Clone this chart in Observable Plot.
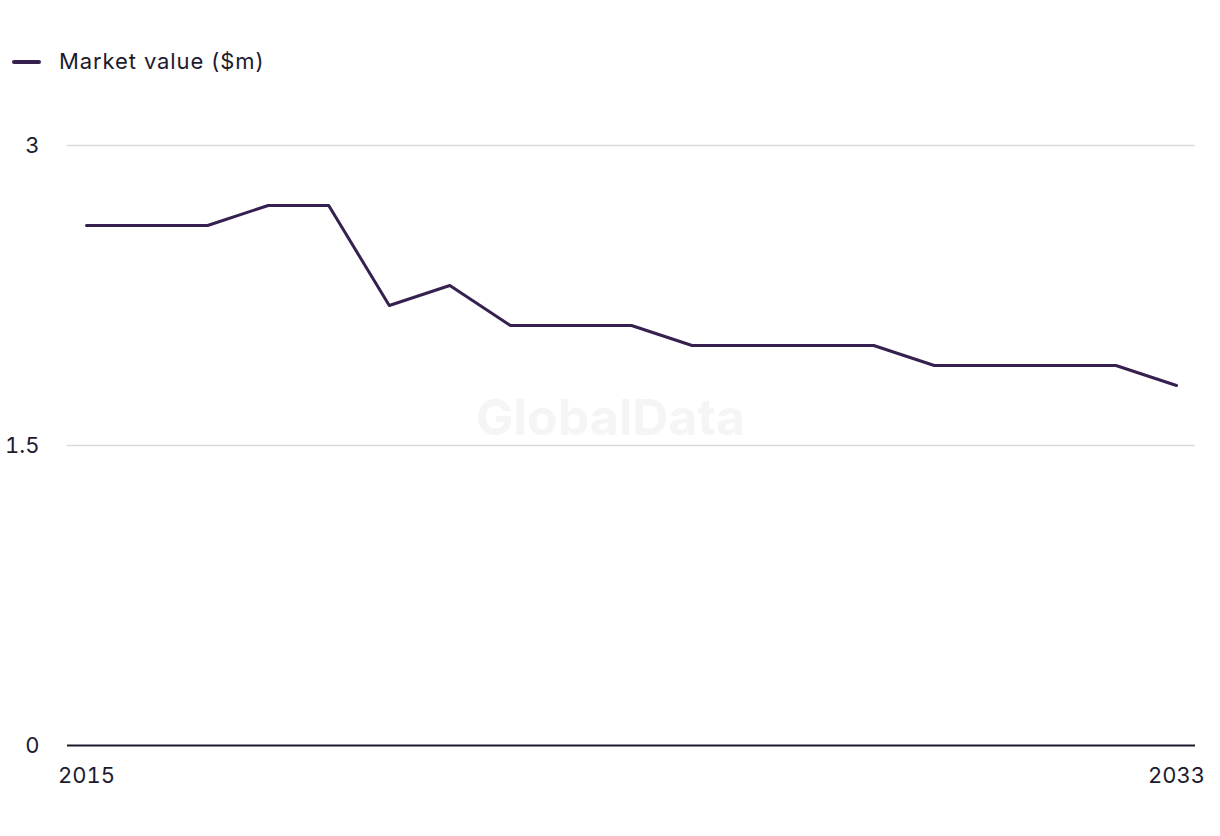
<!DOCTYPE html>
<html>
<head>
<meta charset="utf-8">
<script src="https://cdn.jsdelivr.net/npm/d3@7"></script>
<script src="https://cdn.jsdelivr.net/npm/@observablehq/plot@0.6"></script>
<style>
  html, body { margin: 0; padding: 0; background: #fff; }
  body { width: 1220px; height: 836px; overflow: hidden; font-family: Inter, "Noto Sans", sans-serif; color: #1c1b2e; }
  #legend { height: 100px; position: relative; }
  #legend .sw { position: absolute; left: 12px; top: 60px; width: 29px; height: 4px; background: #35204f; border-radius: 2px; }
  #legend .lb { position: absolute; left: 59px; top: 47px; font-size: 22px; line-height: 28px; letter-spacing: 0.9px; }
</style>
</head>
<body>
<div id="legend"><span class="sw"></span><span class="lb">Market value ($m)</span></div>
<div id="chart"></div>
<script>
const years = [2015,2016,2017,2018,2019,2020,2021,2022,2023,2024,2025,2026,2027,2028,2029,2030,2031,2032,2033];
const marketValue = [2.6,2.6,2.6,2.7,2.7,2.2,2.3,2.1,2.1,2.1,2.0,2.0,2.0,2.0,1.9,1.9,1.9,1.9,1.8];
const yTicks = [0, 1.5, 3];
const xTicks = [2015, 2033];

const data = years.map((y, i) => ({year: y, value: marketValue[i]}));

const chart = Plot.plot({
  width: 1220,
  height: 736,
  marginLeft: 86,
  marginRight: 44,
  marginTop: 45,
  marginBottom: 91,
  style: {fontFamily: "Inter, 'Noto Sans', sans-serif", fontSize: "22px", color: "#1c1b2e", background: "#fff"},
  x: {domain: [2015, 2033], ticks: xTicks, tickFormat: d => String(d), tickSize: 0, tickPadding: 22, label: null},
  y: {domain: [0, 3], ticks: yTicks, tickFormat: d => String(d), tickSize: 0, tickPadding: 47, label: null},
  marks: [
    Plot.ruleY(yTicks.filter(d => d > 0), {stroke: "#d9d9d9", strokeWidth: 1.5, insetLeft: -19, insetRight: -19}),
    Plot.text(["GlobalData"], {frameAnchor: "middle", dx: -21, dy: -27, fontSize: 50, fontWeight: "bold", fill: "#f5f5f5"}),
    Plot.ruleY([0], {stroke: "#1c1b2e", strokeWidth: 2, insetLeft: -19, insetRight: -19}),
    Plot.line(data, {x: "year", y: "value", stroke: "#35204f", strokeWidth: 3})
  ]
});
document.getElementById("chart").appendChild(chart);
</script>
</body>
</html>
